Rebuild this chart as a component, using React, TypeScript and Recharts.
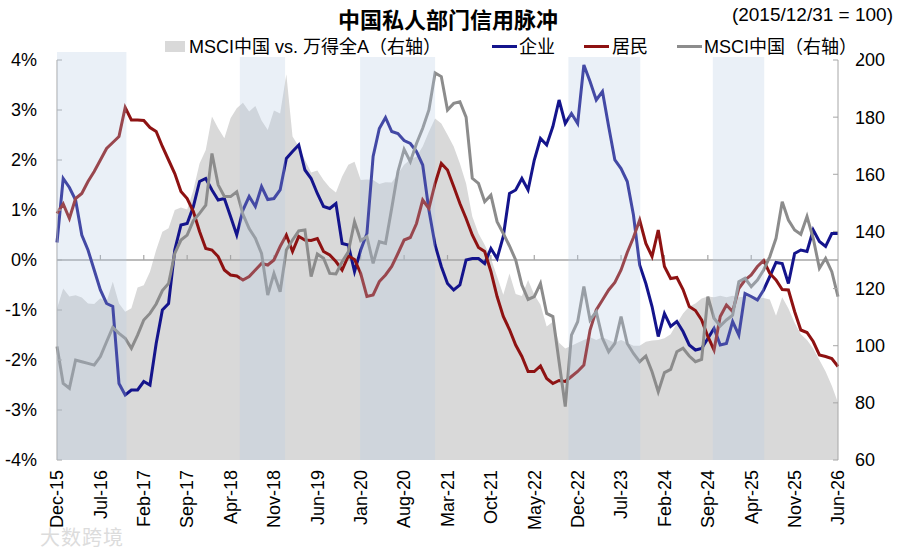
import React from 'react';
import { ComposedChart, Area, Line, XAxis, YAxis, ReferenceArea, ReferenceLine } from 'recharts';

// 企业 credit impulse, % (left axis), monthly Dec-15 .. Jun-26
const corp = [
  0.35, 1.63, 1.45, 1.2, 0.5, 0.2, -0.2, -0.6, -0.87, -0.93,
  -2.47, -2.7, -2.6, -2.6, -2.43, -2.5, -1.67, -1.0, -0.87, 0.2,
  0.7, 0.73, 1.07, 1.57, 1.63, 1.4, 1.2, 1.23, 0.87, 0.5,
  1.0, 1.27, 1.07, 1.47, 1.21, 1.23, 1.4, 2.03, 2.17, 2.3,
  1.8, 1.63, 1.33, 1.07, 1.03, 1.13, 0.33, 0.3, -0.23, 0.2,
  0.53, 2.07, 2.63, 2.85, 2.57, 2.53, 2.39, 2.33, 2.17, 1.9,
  1.0, 0.3, -0.13, -0.47, -0.6, -0.5, 0.0, 0.03, 0.03, -0.07,
  0.23, 0.03, 0.47, 1.33, 1.4, 1.63, 1.4, 2.0, 2.43, 2.3,
  2.67, 3.2, 2.73, 2.93, 2.73, 3.9, 3.57, 3.2, 3.37, 2.67,
  2.0, 1.83, 1.57, 0.9, -0.1, -0.47, -0.93, -1.53, -1.07, -1.33,
  -1.23, -1.43, -1.7, -1.8, -1.77, -1.57, -1.37, -1.7, -1.67, -1.23,
  -1.5, -0.67, -0.73, -0.8, -0.6, -0.33, -0.05, -0.07, -0.47, 0.13,
  0.2, 0.17, 0.6, 0.37, 0.27, 0.53, 0.53,
];

// 居民 credit impulse, % (left axis)
const household = [
  0.93, 1.12, 0.83, 1.23, 1.33, 1.57, 1.77, 2.0, 2.23, 2.35,
  2.47, 3.05, 2.8, 2.8, 2.79, 2.65, 2.57, 2.27, 2.0, 1.73,
  1.37, 1.23, 0.97, 0.57, 0.23, 0.2, 0.07, -0.2, -0.3, -0.32,
  -0.4, -0.33, -0.2, -0.07, -0.1, 0.0, 0.27, 0.5, 0.17, 0.47,
  0.4, 0.39, 0.43, 0.17, 0.1, -0.03, -0.2, 0.08, 0.01, -0.27,
  -0.73, -0.7, -0.43, -0.3, -0.13, 0.13, 0.4, 0.45, 0.73, 1.2,
  1.03, 1.53, 1.93, 1.8, 1.47, 1.13, 0.83, 0.5, 0.25, 0.17,
  -0.23, -0.73, -1.13, -1.39, -1.7, -1.93, -2.23, -2.23, -2.12, -2.37,
  -2.47, -2.41, -2.43, -2.33, -2.23, -2.1, -1.4, -1.0, -0.8, -0.6,
  -0.45, -0.2, 0.15, 0.45, 0.8, 0.33, 0.07, 0.6, -0.13, -0.37,
  -0.35, -0.59, -0.93, -1.01, -1.2, -1.53, -1.8, -1.13, -0.9, -1.03,
  -0.57, -0.4, -0.3, -0.13, -0.01, -0.27, -0.4, -0.59, -0.6, -1.03,
  -1.4, -1.45, -1.63, -1.9, -1.93, -1.97, -2.13,
];

// MSCI中国 index, 2015/12/31 = 100 (right axis)
const msci = [
  99.7, 86.8, 85.1, 95, 94.4, 93.8, 93.2, 96.2, 101.4, 106.4,
  104.3, 102.6, 99.1, 103.7, 109, 111.3, 114.6, 119.3, 121.8, 132.3,
  137, 138.7, 143.8, 146.3, 149.2, 167.3, 156.3, 152.2, 152.2, 153.9,
  146, 141, 137.6, 132.3, 117.7, 125.3, 118.9, 133.5, 137, 140.2,
  140.5, 124.2, 132.1, 130.6, 125.3, 125.1, 129.4, 132.9, 143.4, 136.8,
  138.2, 128.8, 136.4, 135.8, 148.1, 160.9, 168.7, 164.4, 170.8, 176.1,
  182.5, 195.5, 194.2, 182.5, 184.8, 185.4, 180, 158.6, 156.8, 150.4,
  152.7, 143.4, 139.3, 134.9, 130, 121.2, 116.2, 117.2, 121.8, 111.3,
  110.2, 94.4, 78.7, 103.7, 108.4, 120.7, 109, 111.9, 102.6, 97.9,
  100.8, 110.2, 100.8, 97.3, 94.4, 96.4, 90.9, 83.9, 90.6, 91.7,
  97.9, 99.1, 96.4, 94.4, 95.2, 117.2, 109.6, 106.9, 109, 110.7,
  122.4, 123.6, 120.7, 123, 126.5, 131.2, 137.6, 150.4, 144, 140.5,
  139, 145.2, 137.6, 127.1, 130.6, 125.9, 117.2,
];

// MSCI中国 vs. 万得全A relative index (right axis)
const relative = [
  113, 120, 117.2, 117.7, 116.9, 114.8, 114.6, 116.6, 115.4, 122.4,
  114.8, 111.9, 113.1, 120.4, 121.2, 125.9, 133.5, 139.9, 141.1, 147.5,
  148.4, 147.7, 154.5, 163.8, 168.5, 180.2, 176.1, 172.6, 179.6, 183.1,
  185, 182, 183.9, 178.8, 175.5, 182.3, 181.3, 195, 173.2, 169.7,
  165, 160.6, 161.3, 158, 155.4, 153.6, 159.2, 163.3, 164.4, 158,
  158.2, 158, 156.6, 157.2, 157.1, 160.1, 163.3, 165.2, 166.2, 169.7,
  174.9, 179.5, 177.8, 173.8, 169.7, 163.8, 156.8, 145.2, 139.3, 135.3,
  130.6, 124.2, 117.8, 125.3, 118.1, 117.4, 123, 117.8, 114.3, 106.7,
  108.4, 101, 99, 100, 101, 102, 103, 102, 103, 102,
  101, 102, 101, 100, 100, 101.4, 101.8, 102, 102.6, 104,
  107.8, 111.3, 113.7, 114.8, 116.5, 117.2, 117, 117.5, 117, 117.5,
  117, 117.2, 117.5, 117, 116.7, 116.2, 110.5, 117, 113, 108,
  104, 102, 99, 95, 91, 86, 80,
];

const tickIdx = [0, 7, 14, 21, 28, 35, 42, 49, 56, 63, 70, 77, 84, 91, 98, 105, 112, 119, 126];
const tickLabels = [
  'Dec-15', 'Jul-16', 'Feb-17', 'Sep-17', 'Apr-18', 'Nov-18', 'Jun-19', 'Jan-20', 'Aug-20', 'Mar-21',
  'Oct-21', 'May-22', 'Dec-22', 'Jul-23', 'Feb-24', 'Sep-24', 'Apr-25', 'Nov-25', 'Jun-26',
];

// shaded periods, in month index
const bands = [
  [0, 11.2],
  [29.5, 36.8],
  [48.9, 61],
  [82.5, 94.1],
  [105.8, 114.1],
];

const leftTicks = [-4, -3, -2, -1, 0, 1, 2, 3, 4];
const rightTicks = [60, 80, 100, 120, 140, 160, 180, 200];

const data = corp.map((v, i) => ({
  idx: i,
  corp: v,
  household: household[i],
  msci: msci[i],
  relative: relative[i],
}));

const FONT = '"Liberation Sans", Arial, "Noto Sans CJK SC", sans-serif';
const BLUE = '#14148c';
const RED = '#8e1212';
const GRAY = '#8c8c8c';
const AREA = '#d9d9d9';
const AXIS = '#a6a6a6';

const XTick = (props: any) => {
  const { x, y, payload } = props;
  const label = tickLabels[tickIdx.indexOf(payload.value)];
  return (
    <text
      x={x}
      y={y}
      dy="0.35em"
      textAnchor="end"
      transform={`rotate(-90 ${x} ${y})`}
      fontSize={18}
      fill="#000"
      fontFamily={FONT}
    >
      {label}
    </text>
  );
};

const LegendLine = ({ color, left }: { color: string; left: number }) => (
  <div style={{ position: 'absolute', left, top: 45, width: 25, height: 3, background: color }} />
);

const LegendText = ({ text, left }: { text: string; left: number }) => (
  <div style={{ position: 'absolute', left, top: 36, fontSize: 18, lineHeight: '22px', whiteSpace: 'nowrap' }}>
    {text}
  </div>
);

export default function App() {
  return (
    <div
      style={{
        position: 'absolute',
        left: 0,
        top: 0,
        width: 900,
        height: 550,
        background: '#fff',
        fontFamily: FONT,
        color: '#000',
      }}
    >
      <ComposedChart width={900} height={550} data={data} margin={{ top: 60, right: 12, bottom: 10, left: 12 }}>
        <XAxis
          dataKey="idx"
          type="number"
          domain={[0, 126]}
          ticks={tickIdx}
          interval={0}
          axisLine={false}
          tickLine={false}
          tickSize={0}
          tickMargin={10}
          height={80}
          tick={<XTick />}
        />
        <YAxis
          yAxisId="left"
          domain={[-4, 4]}
          ticks={leftTicks}
          interval={0}
          width={45}
          tickFormatter={(v) => `${v}%`}
          axisLine={{ stroke: AXIS }}
          tickLine={{ stroke: AXIS }}
          tickSize={-5}
          tickMargin={25}
          tick={{ fill: '#000', fontSize: 18, fontFamily: FONT }}
        />
        <YAxis
          yAxisId="right"
          orientation="right"
          domain={[60, 200]}
          ticks={rightTicks}
          interval={0}
          width={50}
          axisLine={{ stroke: AXIS }}
          tickLine={{ stroke: AXIS }}
          tickSize={-5}
          tickMargin={22}
          tick={{ fill: '#000', fontSize: 18, fontFamily: FONT }}
        />
        <Area
          yAxisId="right"
          dataKey="relative"
          type="linear"
          fill={AREA}
          fillOpacity={1}
          stroke="none"
          isAnimationActive={false}
        />
        <ReferenceLine yAxisId="left" y={0} stroke={AXIS} strokeWidth={1.5} />
        {tickIdx.slice(1, -1).map((t) => (
          <ReferenceLine
            key={`zt${t}`}
            yAxisId="left"
            segment={[{ x: t, y: 0 }, { x: t, y: 0.1 }]}
            stroke={AXIS}
            strokeWidth={1.2}
          />
        ))}
        <Line yAxisId="left" dataKey="corp" type="linear" stroke={BLUE} strokeWidth={3} dot={false} isAnimationActive={false} />
        <Line yAxisId="left" dataKey="household" type="linear" stroke={RED} strokeWidth={3} dot={false} isAnimationActive={false} />
        <Line yAxisId="right" dataKey="msci" type="linear" stroke={GRAY} strokeWidth={3} dot={false} isAnimationActive={false} />
        {bands.map(([a, b]) => (
          <ReferenceArea
            key={`band${a}`}
            yAxisId="left"
            x1={a}
            x2={b}
            y1={-4}
            y2={4.16}
            ifOverflow="visible"
            fill="#b7cbe3"
            fillOpacity={0.29}
            stroke="none"
            zIndex={1500}
          />
        ))}
      </ComposedChart>

      <div
        style={{
          position: 'absolute',
          left: 0,
          width: 896,
          top: 7,
          textAlign: 'center',
          fontSize: 22,
          fontWeight: 'bold',
          lineHeight: '28px',
        }}
      >
        中国私人部门信用脉冲
      </div>
      <div style={{ position: 'absolute', right: 7, top: 4, fontSize: 19, lineHeight: '22px' }}>
        (2015/12/31 = 100)
      </div>

      <div style={{ position: 'absolute', left: 160, top: 36, width: 700, height: 21, background: '#fff' }} />
      <div style={{ position: 'absolute', left: 165, top: 41, width: 20, height: 11, background: AREA }} />
      <LegendText text="MSCI中国 vs. 万得全A（右轴）" left={189} />
      <LegendLine color={BLUE} left={492} />
      <LegendText text="企业" left={519} />
      <LegendLine color={RED} left={584} />
      <LegendText text="居民" left={612} />
      <LegendLine color={GRAY} left={677} />
      <LegendText text="MSCI中国（右轴）" left={704} />

      <div style={{ position: 'absolute', left: 40, top: 522, fontSize: 20, color: '#dcdcdc', letterSpacing: 1 }}>
        大数跨境
      </div>
    </div>
  );
}
